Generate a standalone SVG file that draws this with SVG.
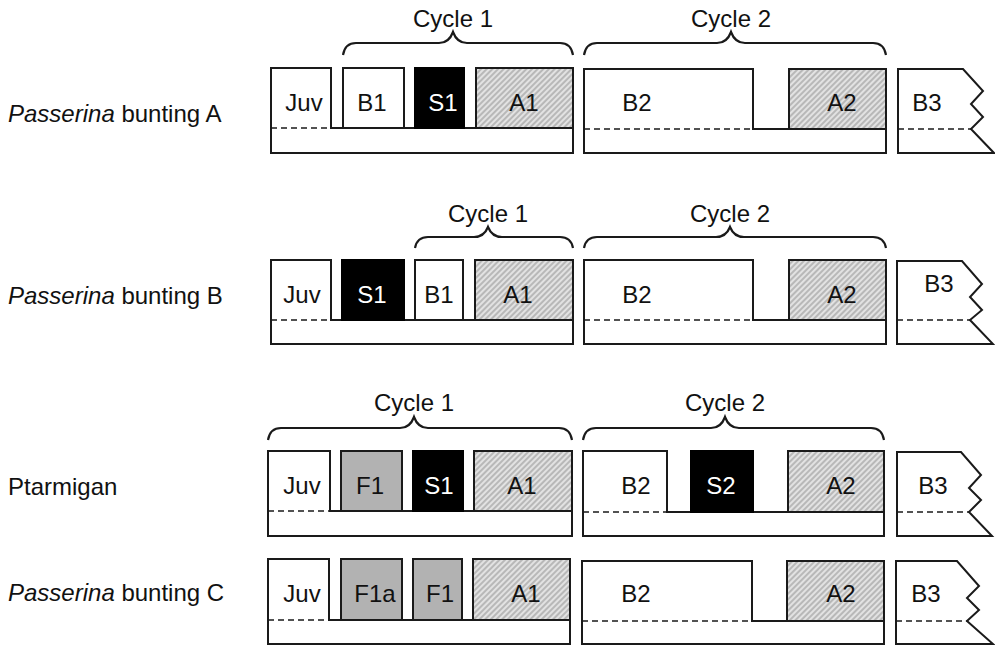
<svg xmlns="http://www.w3.org/2000/svg" width="995" height="647" viewBox="0 0 995 647">
<style>
text{font-family:"Liberation Sans",Arial,sans-serif;font-size:24px;fill:#111}
.lbl{text-anchor:start}
.c{text-anchor:middle}
.w{fill:#fff}
.o{fill:#fff;stroke:#1a1a1a;stroke-width:2}
.blk{fill:#fff;stroke:#1a1a1a;stroke-width:2}
.s{fill:#000;stroke:#000;stroke-width:2}
.f{fill:#b2b2b2;stroke:#1a1a1a;stroke-width:2}
.a{fill:url(#hatch);stroke:#1a1a1a;stroke-width:2}
.d{fill:none;stroke:#1a1a1a;stroke-width:1.6;stroke-dasharray:6 4}
.br{fill:none;stroke:#1a1a1a;stroke-width:2.2}
</style>
<defs>
<pattern id="hatch" patternUnits="userSpaceOnUse" width="4" height="4" patternTransform="rotate(45)">
<rect width="4" height="4" fill="#e2e2e2"/>
<line x1="1" y1="0" x2="1" y2="4" stroke="#8e8e8e" stroke-width="1"/>
</pattern>
</defs>
<rect width="995" height="647" fill="#fff"/>

<g id="labels">
<text class="lbl" x="8" y="122"><tspan font-style="italic">Passerina</tspan> bunting A</text>
<text class="lbl" x="8" y="304"><tspan font-style="italic">Passerina</tspan> bunting B</text>
<text class="lbl" x="8" y="495">Ptarmigan</text>
<text class="lbl" x="8" y="601"><tspan font-style="italic">Passerina</tspan> bunting C</text>
</g>

<g id="braces">
<path class="br" d="M343,55 Q345,43 356,43 H439 Q449,43 453,32 Q457,43 467,43 H560 Q571,43 573,55"/>
<text class="c" x="453" y="27">Cycle 1</text>
<path class="br" d="M584,55 Q586,43 597,43 H717 Q727,43 731,32 Q735,43 745,43 H873 Q884,43 886,55"/>
<text class="c" x="731" y="27">Cycle 2</text>

<path class="br" d="M415,248 Q417,237 428,237 H474 Q484,237 488,227 Q492,237 502,237 H560 Q571,237 573,248"/>
<text class="c" x="488" y="222">Cycle 1</text>
<path class="br" d="M584,248 Q586,237 597,237 H716 Q726,237 730,227 Q734,237 744,237 H873 Q884,237 886,248"/>
<text class="c" x="730" y="222">Cycle 2</text>

<path class="br" d="M268,440 Q270,428 281,428 H400 Q410,428 414,417 Q418,428 428,428 H559 Q570,428 572,440"/>
<text class="c" x="414" y="411">Cycle 1</text>
<path class="br" d="M583,440 Q585,428 596,428 H711 Q721,428 725,417 Q729,428 739,428 H871 Q882,428 884,440"/>
<text class="c" x="725" y="411">Cycle 2</text>
</g>

<g id="rowA">
<g id="A-seg1">
<path class="o" d="M271,68 H331 V128 H573 V153 H271 Z"/>
<line class="d" x1="271" y1="128" x2="331" y2="128"/>
<text class="c" x="304" y="111">Juv</text>
<rect class="blk" x="343" y="68" width="61" height="60"/>
<text class="c" x="372" y="111">B1</text>
<rect class="s" x="415" y="68" width="49" height="60"/>
<text class="c w" x="443" y="111">S1</text>
<rect class="a" x="476" y="68" width="97" height="60"/>
<text class="c" x="524" y="111">A1</text>
</g>
<g id="A-seg2">
<path class="o" d="M584,69 H753 V129 H886 V153 H584 Z"/>
<line class="d" x1="584" y1="129" x2="753" y2="129"/>
<text class="c" x="637" y="111">B2</text>
<rect class="a" x="789" y="69" width="97" height="60"/>
<text class="c" x="842" y="111">A2</text>
</g>
<g id="A-B3">
<path class="o" d="M898,69 H963 L983,91 L971,104 L983,117 L971,129 L994,153 H898 Z"/>
<line class="d" x1="898" y1="129" x2="971" y2="129"/>
<text class="c" x="927" y="111">B3</text>
</g>
</g>

<g id="rowB">
<g id="B-seg1">
<path class="o" d="M271,260 H331 V320 H573 V344 H271 Z"/>
<line class="d" x1="271" y1="320" x2="331" y2="320"/>
<text class="c" x="302" y="303">Juv</text>
<rect class="s" x="342" y="260" width="62" height="60"/>
<text class="c w" x="372" y="303">S1</text>
<rect class="blk" x="415" y="260" width="48" height="60"/>
<text class="c" x="439" y="303">B1</text>
<rect class="a" x="475" y="260" width="98" height="60"/>
<text class="c" x="518" y="303">A1</text>
</g>
<g id="B-seg2">
<path class="o" d="M584,260 H753 V320 H886 V344 H584 Z"/>
<line class="d" x1="584" y1="320" x2="753" y2="320"/>
<text class="c" x="637" y="303">B2</text>
<rect class="a" x="789" y="260" width="97" height="60"/>
<text class="c" x="842" y="303">A2</text>
</g>
<g id="B-B3">
<path class="o" d="M897,261 H962 L982,284 L970,297 L982,310 L970,320 L993,344 H897 Z"/>
<line class="d" x1="897" y1="320" x2="970" y2="320"/>
<text class="c" x="939" y="292">B3</text>
</g>
</g>

<g id="rowP">
<g id="P-seg1">
<path class="o" d="M268,451 H330 V511 H572 V536 H268 Z"/>
<line class="d" x1="268" y1="511" x2="330" y2="511"/>
<text class="c" x="302" y="494">Juv</text>
<rect class="f" x="341" y="451" width="61" height="60"/>
<text class="c" x="370" y="494">F1</text>
<rect class="s" x="413" y="451" width="50" height="60"/>
<text class="c w" x="439" y="494">S1</text>
<rect class="a" x="474" y="451" width="98" height="60"/>
<text class="c" x="522" y="494">A1</text>
</g>
<g id="P-seg2">
<path class="o" d="M583,451 H667 V512 H884 V536 H583 Z"/>
<line class="d" x1="583" y1="512" x2="667" y2="512"/>
<text class="c" x="636" y="494">B2</text>
<rect class="s" x="691" y="451" width="62" height="61"/>
<text class="c w" x="721" y="494">S2</text>
<rect class="a" x="788" y="451" width="96" height="61"/>
<text class="c" x="841" y="494">A2</text>
</g>
<g id="P-B3">
<path class="o" d="M897,452 H961 L981,475 L969,488 L981,500 L969,512 L992,536 H897 Z"/>
<line class="d" x1="897" y1="512" x2="969" y2="512"/>
<text class="c" x="933" y="494">B3</text>
</g>
</g>

<g id="rowC">
<g id="C-seg1">
<path class="o" d="M268,559 H329 V620 H570 V644 H268 Z"/>
<line class="d" x1="268" y1="620" x2="329" y2="620"/>
<text class="c" x="302" y="602">Juv</text>
<rect class="f" x="341" y="559" width="61" height="61"/>
<text class="c" x="375" y="602">F1a</text>
<rect class="f" x="413" y="559" width="49" height="61"/>
<text class="c" x="440" y="602">F1</text>
<rect class="a" x="473" y="559" width="97" height="61"/>
<text class="c" x="526" y="602">A1</text>
</g>
<g id="C-seg2">
<path class="o" d="M582,561 H752 V621 H884 V644 H582 Z"/>
<line class="d" x1="582" y1="621" x2="752" y2="621"/>
<text class="c" x="636" y="602">B2</text>
<rect class="a" x="787" y="561" width="97" height="60"/>
<text class="c" x="841" y="602">A2</text>
</g>
<g id="C-B3">
<path class="o" d="M896,561 H957 L979,586 L967,598 L979,610 L967,621 L993,644 H896 Z"/>
<line class="d" x1="896" y1="621" x2="967" y2="621"/>
<text class="c" x="926" y="602">B3</text>
</g>
</g>
</svg>
